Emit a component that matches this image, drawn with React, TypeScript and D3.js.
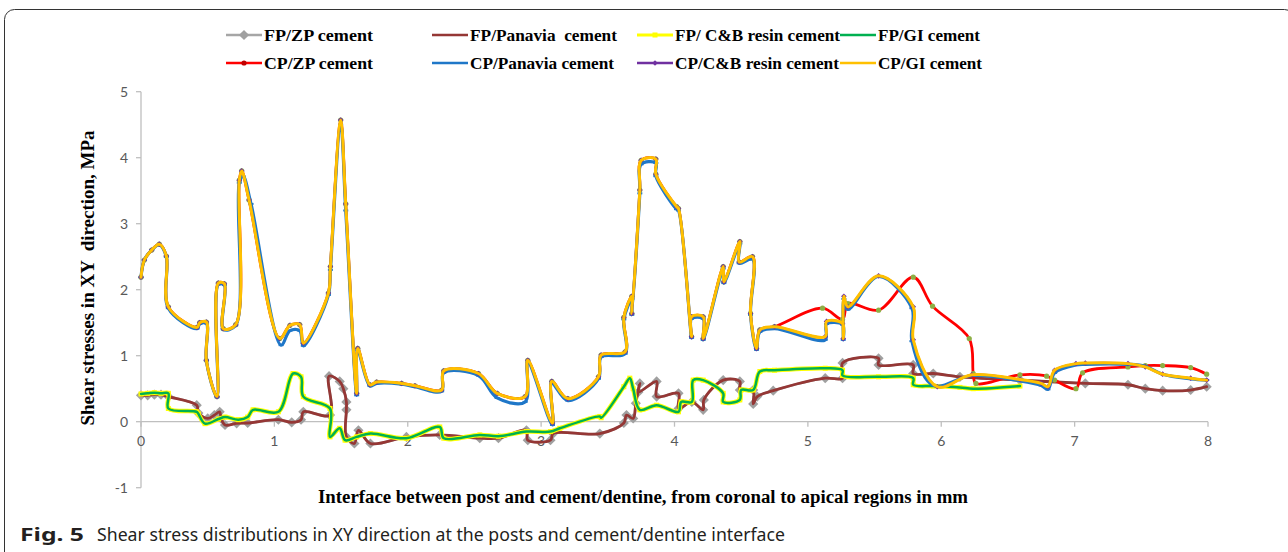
import React from 'react';
import * as d3 from 'd3';

type Pt = [number, number];

const xTicks = [0, 1, 2, 3, 4, 5, 6, 7, 8];
const yTicks = [-1, 0, 1, 2, 3, 4, 5];

// CP group: shared coronal part (0 - 4.64 mm)
const cpCoronalSegment: Pt[] = [
  [0, 2.19], [0.025, 2.45], [0.08, 2.6], [0.137, 2.69], [0.19, 2.51], [0.205, 1.74],
  [0.42, 1.43], [0.44, 1.5], [0.49, 1.51], [0.49, 0.93], [0.57, 0.38], [0.58, 2.1],
  [0.625, 2.09], [0.617, 1.41], [0.71, 1.47], [0.737, 3.66], [0.755, 3.8], [0.81, 3.36],
  [1.04, 1.26], [1.117, 1.46], [1.19, 1.47], [1.217, 1.19], [1.405, 1.95], [1.42, 2.35],
  [1.497, 4.57], [1.535, 3.3], [1.617, 0.43], [1.625, 1.11], [1.717, 0.56], [1.767, 0.6],
  [1.954, 0.58], [2.054, 0.545], [2.254, 0.48], [2.27, 0.77], [2.53, 0.73], [2.67, 0.43],
  [2.88, 0.38], [2.9, 0.93], [3.085, -0.02], [3.08, 0.61], [3.2, 0.35], [3.43, 0.68],
  [3.45, 1.01], [3.63, 1.06], [3.62, 1.58], [3.68, 1.9], [3.68, 1.64], [3.74, 3.51],
  [3.75, 3.96], [3.86, 3.98], [3.86, 3.75], [4.015, 3.26], [4.03, 3.23], [4.128, 1.29],
  [4.128, 1.59], [4.215, 1.59], [4.215, 1.26], [4.365, 2.35], [4.37, 2.12], [4.49, 2.73],
  [4.485, 2.42], [4.585, 2.5], [4.57, 1.64], [4.615, 1.11], [4.64, 1.39],
];

const cpPanaviaCoronal: Pt[] = [
  [0, 2.19], [0.025, 2.45], [0.08, 2.6], [0.137, 2.68], [0.19, 2.5], [0.205, 1.72],
  [0.42, 1.41], [0.44, 1.48], [0.49, 1.49], [0.49, 0.93], [0.57, 0.37], [0.58, 2.08],
  [0.625, 2.07], [0.617, 1.4], [0.71, 1.46], [0.737, 3.62], [0.765, 3.72], [0.825, 3.3],
  [1.05, 1.16], [1.117, 1.38], [1.19, 1.38], [1.217, 1.15], [1.405, 1.92], [1.42, 2.3],
  [1.497, 4.5], [1.535, 3.2], [1.617, 0.4], [1.625, 1.08], [1.717, 0.54], [1.767, 0.58],
  [1.954, 0.57], [2.054, 0.53], [2.254, 0.46], [2.27, 0.74], [2.53, 0.7], [2.67, 0.36],
  [2.88, 0.3], [2.9, 0.9], [3.085, -0.05], [3.08, 0.58], [3.2, 0.32], [3.43, 0.65],
  [3.45, 0.98], [3.63, 1.03], [3.62, 1.55], [3.68, 1.86], [3.68, 1.62], [3.74, 3.46],
  [3.75, 3.9], [3.86, 3.92], [3.86, 3.72], [4.015, 3.22], [4.03, 3.2], [4.128, 1.27],
  [4.128, 1.56], [4.215, 1.56], [4.215, 1.24], [4.365, 2.32], [4.37, 2.1], [4.49, 2.7],
  [4.485, 2.4], [4.585, 2.46], [4.57, 1.62], [4.615, 1.09], [4.64, 1.36],
];

const cpApicalGI: Pt[] = [
  [4.75, 1.44], [5.13, 1.29], [5.14, 1.52], [5.26, 1.49], [5.265, 1.26], [5.27, 1.9],
  [5.3, 1.74], [5.53, 2.21], [5.79, 1.74], [5.79, 1.24], [5.97, 0.53], [6.23, 0.71],
  [6.59, 0.64], [6.75, 0.58], [6.8, 0.53], [6.85, 0.78], [7.01, 0.88], [7.08, 0.89],
  [7.4, 0.88], [7.53, 0.83], [7.66, 0.72], [7.87, 0.66], [7.99, 0.63],
];

const cpApicalPanavia: Pt[] = [
  [4.75, 1.41], [5.13, 1.24], [5.14, 1.48], [5.26, 1.47], [5.265, 1.24], [5.27, 1.86],
  [5.3, 1.7], [5.53, 2.2], [5.78, 1.72], [5.78, 1.22], [5.94, 0.55], [6.23, 0.7],
  [6.59, 0.62], [6.75, 0.55], [6.8, 0.49], [6.85, 0.74], [7.01, 0.86], [7.08, 0.87],
  [7.4, 0.87], [7.53, 0.84], [7.66, 0.72], [7.87, 0.65], [7.99, 0.63],
];

const cpApicalZP: Pt[] = [
  [4.75, 1.44], [5.11, 1.72], [5.26, 1.55], [5.3, 1.79], [5.53, 1.69], [5.79, 2.19],
  [5.935, 1.75], [6.21, 1.26], [6.24, 0.73], [6.26, 0.58], [6.59, 0.71], [6.79, 0.69],
  [6.85, 0.63], [7.01, 0.5], [7.06, 0.74], [7.4, 0.83], [7.53, 0.85], [7.66, 0.85],
  [7.87, 0.82], [7.99, 0.72],
];

// FP group
const fpPanaviaCement: Pt[] = [
  [0, 0.4], [0.05, 0.4], [0.1, 0.41], [0.15, 0.41], [0.205, 0.38], [0.418, 0.25],
  [0.43, 0.13], [0.5, 0.05], [0.55, 0.1], [0.59, 0.15], [0.6, 0.05], [0.63, -0.05],
  [0.717, -0.025], [0.8, -0.02], [1.03, 0.03], [1.13, -0.01], [1.2, 0.03], [1.217, 0.15],
  [1.417, 0.1], [1.41, 0.69], [1.49, 0.61], [1.517, 0.5], [1.54, 0.3], [1.54, 0.18],
  [1.54, -0.23], [1.6, -0.33], [1.63, -0.13], [1.72, -0.33], [1.99, -0.23], [2.24, -0.2],
  [2.54, -0.25], [2.68, -0.25], [2.89, -0.13], [2.9, -0.28], [3.07, -0.28], [3.09, -0.18],
  [3.44, -0.18], [3.62, -0.02], [3.64, 0.1], [3.69, 0.05], [3.71, 0.28], [3.74, 0.58],
  [3.73, 0.45], [3.866, 0.61], [3.866, 0.38], [4.03, 0.43], [4.03, 0.2], [4.13, 0.3],
  [4.215, 0.18], [4.22, 0.33], [4.365, 0.63], [4.49, 0.61], [4.49, 0.48], [4.59, 0.48],
  [4.59, 0.27], [4.62, 0.38], [4.74, 0.47], [5.13, 0.66], [5.26, 0.66], [5.26, 0.89],
  [5.53, 0.96], [5.53, 0.86], [5.79, 0.86], [5.79, 0.73], [5.94, 0.73], [6.14, 0.68],
  [6.59, 0.63], [7.08, 0.58], [7.4, 0.56], [7.53, 0.5], [7.66, 0.47], [7.87, 0.48],
  [7.99, 0.53],
];

const fpGICement: Pt[] = [
  [0, 0.42], [0.05, 0.43], [0.1, 0.44], [0.15, 0.43], [0.205, 0.43], [0.205, 0.2],
  [0.418, 0.15], [0.43, 0.12], [0.48, -0.03], [0.58, 0.04], [0.63, 0.07], [0.73, 0.03],
  [0.8, 0.07], [0.84, 0.18], [1.03, 0.15], [1.14, 0.73], [1.2, 0.68], [1.217, 0.38],
  [1.417, 0.2], [1.417, -0.23], [1.49, -0.1], [1.53, -0.28], [1.617, -0.23], [1.72, -0.18],
  [1.99, -0.25], [2.24, -0.08], [2.27, -0.25], [2.54, -0.2], [2.68, -0.22], [2.89, -0.15],
  [3.07, -0.15], [3.14, -0.1], [3.44, 0.08], [3.45, 0.06], [3.62, 0.53], [3.665, 0.66],
  [3.69, 0.5], [3.74, 0.18], [3.866, 0.25], [4.03, 0.15], [4.05, 0.3], [4.13, 0.3],
  [4.14, 0.63], [4.215, 0.63], [4.365, 0.43], [4.365, 0.3], [4.49, 0.33], [4.5, 0.48],
  [4.59, 0.48], [4.64, 0.76], [4.75, 0.78], [5.13, 0.81], [5.26, 0.78], [5.26, 0.7],
  [5.53, 0.68], [5.79, 0.66], [5.79, 0.56], [5.94, 0.54], [6.14, 0.52], [6.24, 0.5],
  [6.59, 0.54],
];

const fpZPCement: Pt[] = fpPanaviaCement;
const fpCBResinCement: Pt[] = fpGICement;
const cpZPCement: Pt[] = [...cpCoronalSegment, ...cpApicalZP];
const cpPanaviaCement: Pt[] = [...cpPanaviaCoronal, ...cpApicalPanavia];
const cpCBResinCement: Pt[] = [...cpCoronalSegment, ...cpApicalGI];
const cpGICement: Pt[] = [...cpCoronalSegment, ...cpApicalGI];

const seriesNames = [
  'FP/ZP cement', 'FP/Panavia  cement', 'FP/ C&B resin cement', 'FP/GI cement',
  'CP/ZP cement', 'CP/Panavia cement', 'CP/C&B resin cement', 'CP/GI cement',
];

type Marker = 'none' | 'bigDiamond' | 'square' | 'dot' | 'dash' | 'smallDiamond';
interface Series { name: string; data: Pt[]; color: string; width: number; marker: Marker; mcolor: string; }

const series: Series[] = [
  { name: seriesNames[0], data: fpZPCement, color: '#A6A6A6', width: 2.5, marker: 'bigDiamond', mcolor: '#A0A0A0' },
  { name: seriesNames[1], data: fpPanaviaCement, color: '#953735', width: 2.8, marker: 'none', mcolor: '#953735' },
  { name: seriesNames[2], data: fpCBResinCement, color: '#FFFF00', width: 4.5, marker: 'square', mcolor: '#FFFF00' },
  { name: seriesNames[3], data: fpGICement, color: '#00B050', width: 2.5, marker: 'none', mcolor: '#00B050' },
  { name: seriesNames[4], data: cpZPCement, color: '#FF0000', width: 2.8, marker: 'dot', mcolor: '#8DAF45' },
  { name: seriesNames[5], data: cpPanaviaCement, color: '#1F77C8', width: 3.2, marker: 'dash', mcolor: '#1F77C8' },
  { name: seriesNames[6], data: cpCBResinCement, color: '#7030A0', width: 2, marker: 'smallDiamond', mcolor: '#7030A0' },
  { name: seriesNames[7], data: cpGICement, color: '#FFC000', width: 3, marker: 'none', mcolor: '#FFC000' },
];

function renderMarker(kind: Marker, cx: number, cy: number, color: string, key: string) {
  switch (kind) {
    case 'bigDiamond':
      return <rect key={key} x={cx - 3.6} y={cy - 3.6} width={7.2} height={7.2} fill={color} transform={`rotate(45 ${cx} ${cy})`} />;
    case 'smallDiamond':
      return <rect key={key} x={cx - 2} y={cy - 2} width={4} height={4} fill={color} transform={`rotate(45 ${cx} ${cy})`} />;
    case 'square':
      return <rect key={key} x={cx - 2.5} y={cy - 2.5} width={5} height={5} fill={color} />;
    case 'dot':
      return <circle key={key} cx={cx} cy={cy} r={2.6} fill={color} />;
    case 'dash':
      return <rect key={key} x={cx - 2.5} y={cy - 1} width={5} height={2} fill={color} />;
    default:
      return null;
  }
}

export default function App() {
  const W = 1288, H = 552;
  const x = d3.scaleLinear().domain([0, 8]).range([141, 1208]);
  const y = d3.scaleLinear().domain([-1, 5]).range([487.7, 91.7]);
  const line = d3.line<Pt>().x(d => x(d[0])).y(d => y(d[1])).curve(d3.curveCatmullRom.alpha(0.5));

  const legendCols = [264, 470, 675, 878];
  const legendRows = [35, 63];
  const legendWidths = [109, 147, 165, 102, 109, 144, 164, 104];
  const serif = "'Liberation Serif', 'Times New Roman', serif";
  const tickFont = "Lato, 'Open Sans', sans-serif";

  return (
    <svg width={W} height={H} style={{ position: 'absolute', left: 0, top: 0, display: 'block', background: '#fff' }}>
      <rect x={4.5} y={9.5} width={1290} height={600} rx={10} ry={10} fill="#fff" stroke="#333" strokeWidth={1} />

      {/* axes */}
      <line x1={x(0)} x2={x(0)} y1={y(-1)} y2={y(5)} stroke="#BFBFBF" strokeWidth={1.3} />
      {yTicks.map(t => (
        <g key={'yt' + t}>
          <line x1={x(0) - 5} x2={x(0)} y1={y(t)} y2={y(t)} stroke="#BFBFBF" strokeWidth={1.3} />
          <text x={128} y={y(t) + 5} textAnchor="end" fontFamily={tickFont} fontSize={14} fill="#595959">{t}</text>
        </g>
      ))}
      <line x1={x(0)} x2={x(8)} y1={y(0)} y2={y(0)} stroke="#BFBFBF" strokeWidth={1.3} />
      {xTicks.map(t => (
        <g key={'xt' + t}>
          <line x1={x(t)} x2={x(t)} y1={y(0)} y2={y(0) + 5} stroke="#BFBFBF" strokeWidth={1.3} />
          <text x={x(t)} y={y(0) + 24.5} textAnchor="middle" fontFamily={tickFont} fontSize={14} fill="#595959">{t}</text>
        </g>
      ))}

      {/* series */}
      {series.map((s, i) => (
        <g key={'s' + i}>
          <path d={line(s.data) || ''} fill="none" stroke={s.color} strokeWidth={s.width} strokeLinejoin="round" strokeLinecap="round" />
          {s.data.map((d, j) => renderMarker(s.marker, x(d[0]), y(d[1]), s.mcolor, `m${i}-${j}`))}
        </g>
      ))}

      {/* legend */}
      {series.map((s, i) => {
        const tx = legendCols[i % 4];
        const ty = legendRows[Math.floor(i / 4)];
        return (
          <g key={'lg' + i}>
            <line x1={tx - 38} x2={tx - 2} y1={ty} y2={ty} stroke={s.color} strokeWidth={s.marker === 'square' ? 3 : 2.5} />
            {renderMarker(s.marker, tx - 20, ty, s.marker === 'dot' ? '#C00000' : s.mcolor, 'lm' + i)}
            <text x={tx} y={ty + 5.5} fontFamily={serif} fontWeight="bold" fontSize={17} fill="#000" style={{ whiteSpace: 'pre' }}
              textLength={legendWidths[i]} lengthAdjust="spacingAndGlyphs">{s.name}</text>
          </g>
        );
      })}

      {/* axis titles */}
      <text transform={`translate(94, 278) rotate(-90)`} textAnchor="middle" fontFamily={serif} fontWeight="bold" fontSize={18} fill="#000" style={{ whiteSpace: 'pre' }}
        textLength={295} lengthAdjust="spacingAndGlyphs">Shear stresses in XY  direction, MPa</text>
      <text x={643} y={503} textAnchor="middle" fontFamily={serif} fontWeight="bold" fontSize={18} fill="#000"
        textLength={650} lengthAdjust="spacingAndGlyphs">Interface between post and cement/dentine, from coronal to apical regions in mm</text>

      {/* caption */}
      <text x={20} y={541} fontFamily="'Noto Sans', 'Open Sans', sans-serif" fontWeight="bold" fontSize={18} fill="#231F20" textLength={64} lengthAdjust="spacingAndGlyphs">Fig. 5</text>
      <text x={97} y={541} fontFamily="'Noto Sans', 'Open Sans', sans-serif" fontSize={18} fill="#231F20" textLength={688} lengthAdjust="spacingAndGlyphs">Shear stress distributions in XY direction at the posts and cement/dentine interface</text>
    </svg>
  );
}
